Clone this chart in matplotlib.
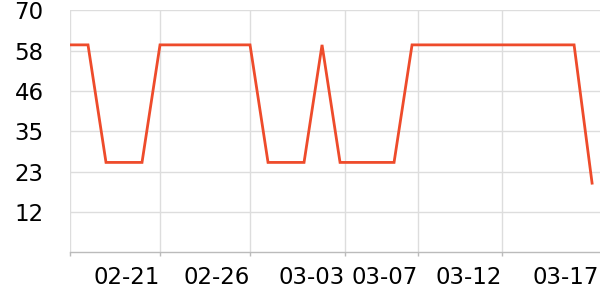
import datetime as dt
import matplotlib
matplotlib.use("Agg")
import matplotlib.pyplot as plt
import matplotlib.transforms as mtransforms

# daily values
dates = ["02-16", "02-17", "02-18", "02-19", "02-20", "02-21", "02-22", "02-23",
         "02-24", "02-25", "02-26", "02-27", "02-28", "03-01", "03-02", "03-03",
         "03-04", "03-05", "03-06", "03-07", "03-08", "03-09", "03-10", "03-11",
         "03-12", "03-13", "03-14", "03-15", "03-16", "03-17"]
values = [60, 60, 26, 26, 26, 60, 60, 60, 60, 60, 60, 26, 26, 26, 60, 26,
          26, 26, 26, 60, 60, 60, 60, 60, 60, 60, 60, 60, 60, 20]

x_ticks = ["02-16 00", "02-21 00", "02-26 00", "03-03 06", "03-07 08", "03-12 00"]
x_labels = ["", "02-21", "02-26", "03-03", "03-07", "03-12"]
last_label = "03-17"
y_labels = ["12", "23", "35", "46", "58", "70"]

def to_date(s):
    if " " not in s:
        s = s + " 00"
    return dt.datetime.strptime("2023-" + s, "%Y-%m-%d %H")

x = [to_date(d) for d in dates]

fig = plt.figure(figsize=(6, 3), dpi=100)
ax = fig.add_axes([70 / 600, 47.7 / 300, 530 / 600, 242 / 300])

ax.plot(x, values, color="#ee4b2b", lw=2.0, solid_joinstyle="miter")

ax.set_xlim(x[0], x[0] + dt.timedelta(days=29.44))
ax.set_ylim(0, 70)

ax.set_xticks([to_date(d) for d in x_ticks])
ax.set_xticklabels(x_labels, ha="right")
ax.set_yticks([70 * (i + 1) / 6 for i in range(6)])
ax.set_yticklabels(y_labels)

ax.tick_params(axis="x", length=3, width=1, color="#bbbbbb", labelsize=16.5, pad=7)
ax.tick_params(axis="y", length=0, labelsize=16.5, pad=19)

# last label sits at the right edge without a gridline
tr = mtransforms.blended_transform_factory(ax.transData, ax.transAxes)
tr = tr + mtransforms.ScaledTranslation(7 / 100, -14 / 100, fig.dpi_scale_trans)
ax.text(to_date(dates[-1]), 0, last_label, fontsize=16.5, ha="right", va="top",
        transform=tr, clip_on=False)

ax.grid(True, color="#dddddd", lw=1)
ax.set_axisbelow(True)
for s in ["top", "right", "left"]:
    ax.spines[s].set_visible(False)
ax.spines["bottom"].set_color("#bbbbbb")
ax.spines["bottom"].set_linewidth(1)

plt.savefig("out.png", dpi=100)
